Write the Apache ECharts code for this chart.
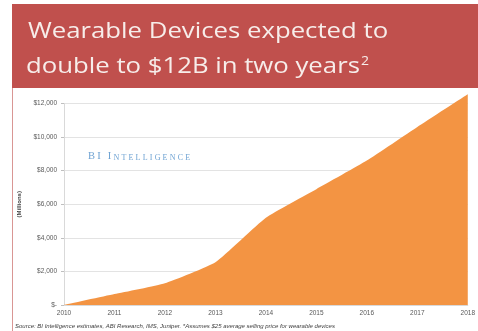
<!DOCTYPE html>
<html><head><meta charset="utf-8">
<script src="https://cdn.jsdelivr.net/npm/echarts@6/dist/echarts.min.js"></script>
<style>html,body{margin:0;padding:0;background:#fff}#c{width:478px;height:331px}</style>
</head><body><div id="c"></div>
<script>
const years = ['2010','2011','2012','2013','2014','2015','2016','2017','2018'];
const revenue = [0, 650, 1300, 2550, 5200, 6900, 8600, 10600, 12550];
const yTicks = [0, 2000, 4000, 6000, 8000, 10000, 12000];
const titleLine1 = 'Wearable Devices expected to';
const titleLine2 = 'double to $12B in two years';
const sourceText = 'Source: BI Intelligence estimates, ABI Research, IMS, Juniper. *Assumes $25 average selling price for wearable devices';
const brandBig = 'BI I';
const brandSmall = 'NTELLIGENCE';

function spaced(str, key) {
  return str.split('').map(ch => '{' + key + '|' + ch + '}').join('{g|\u2009}');
}
const brandRich = spaced(brandBig, 'a') + '{g|\u2009}' + spaced(brandSmall, 'b');

const chart = echarts.init(document.getElementById('c'), null, {renderer: 'canvas'});
chart.setOption({
  animation: false,
  backgroundColor: '#ffffff',
  grid: {left: 64, right: 3, top: 103.5, bottom: 26},
  xAxis: {
    type: 'category', data: years, boundaryGap: false,
    axisLine: {show: true, lineStyle: {color: '#d9d9d9'}},
    axisTick: {show: false},
    axisLabel: {color: '#595959', fontSize: 6.5, fontFamily: 'Liberation Sans', margin: 5}
  },
  yAxis: {
    type: 'value', min: yTicks[0], max: yTicks[yTicks.length - 1], interval: 2000,
    name: '(Millions)', nameLocation: 'middle', nameRotate: 90, nameGap: 38,
    nameTextStyle: {color: '#404040', fontSize: 6, fontWeight: 'bold', fontFamily: 'Liberation Sans'},
    axisLine: {show: true, lineStyle: {color: '#d9d9d9'}},
    axisTick: {show: true, length: 3, lineStyle: {color: '#bfbfbf'}},
    splitLine: {lineStyle: {color: '#e3e3e3'}},
    axisLabel: {
      color: '#595959', fontSize: 6.5, fontFamily: 'Liberation Sans', margin: 7,
      formatter: v => v === 0 ? '$-' : '$' + v.toLocaleString('en-US')
    }
  },
  series: [{
    type: 'line', data: revenue, smooth: 0.15, clip: false,
    symbol: 'none', lineStyle: {width: 0},
    areaStyle: {color: '#F39443', opacity: 1}
  }],
  graphic: [
    {type: 'rect', x: 12, y: 4, shape: {width: 466, height: 84}, style: {fill: '#C0504D'}, z: 10},
    {type: 'rect', x: 12, y: 88, shape: {width: 1, height: 243}, style: {fill: '#D99694'}, z: 10},
    {type: 'text', x: 28, y: 21, scaleX: 1.17, z: 11,
      style: {text: titleLine1, fill: '#F7EDEA', font: '22px "Open Sans"'}},
    {type: 'text', x: 26, y: 56, scaleX: 1.17, z: 11,
      style: {text: '{t|' + titleLine2 + '}{s|2}', fill: '#F7EDEA',
        rich: {t: {font: '22px "Open Sans"', fill: '#F7EDEA'}, s: {font: '12px "Open Sans"', fill: '#F7EDEA', verticalAlign: 'top', padding: [0,0,10,1]}}}},
    {type: 'text', left: 88, top: 151, z: 11,
      style: {text: brandRich, rich: {
        a: {font: '10.5px "Liberation Serif"', fill: '#6FA3D3', verticalAlign: 'bottom'},
        b: {font: '8px "Liberation Serif"', fill: '#6FA3D3', verticalAlign: 'bottom'},
        g: {font: '11px "Liberation Serif"', fill: '#6FA3D3', verticalAlign: 'bottom'}}}},
    {type: 'text', left: 15, top: 323, z: 11,
      style: {text: sourceText, fill: '#404040', font: 'italic 6px "Liberation Sans"'}}
  ]
});
</script></body></html>
